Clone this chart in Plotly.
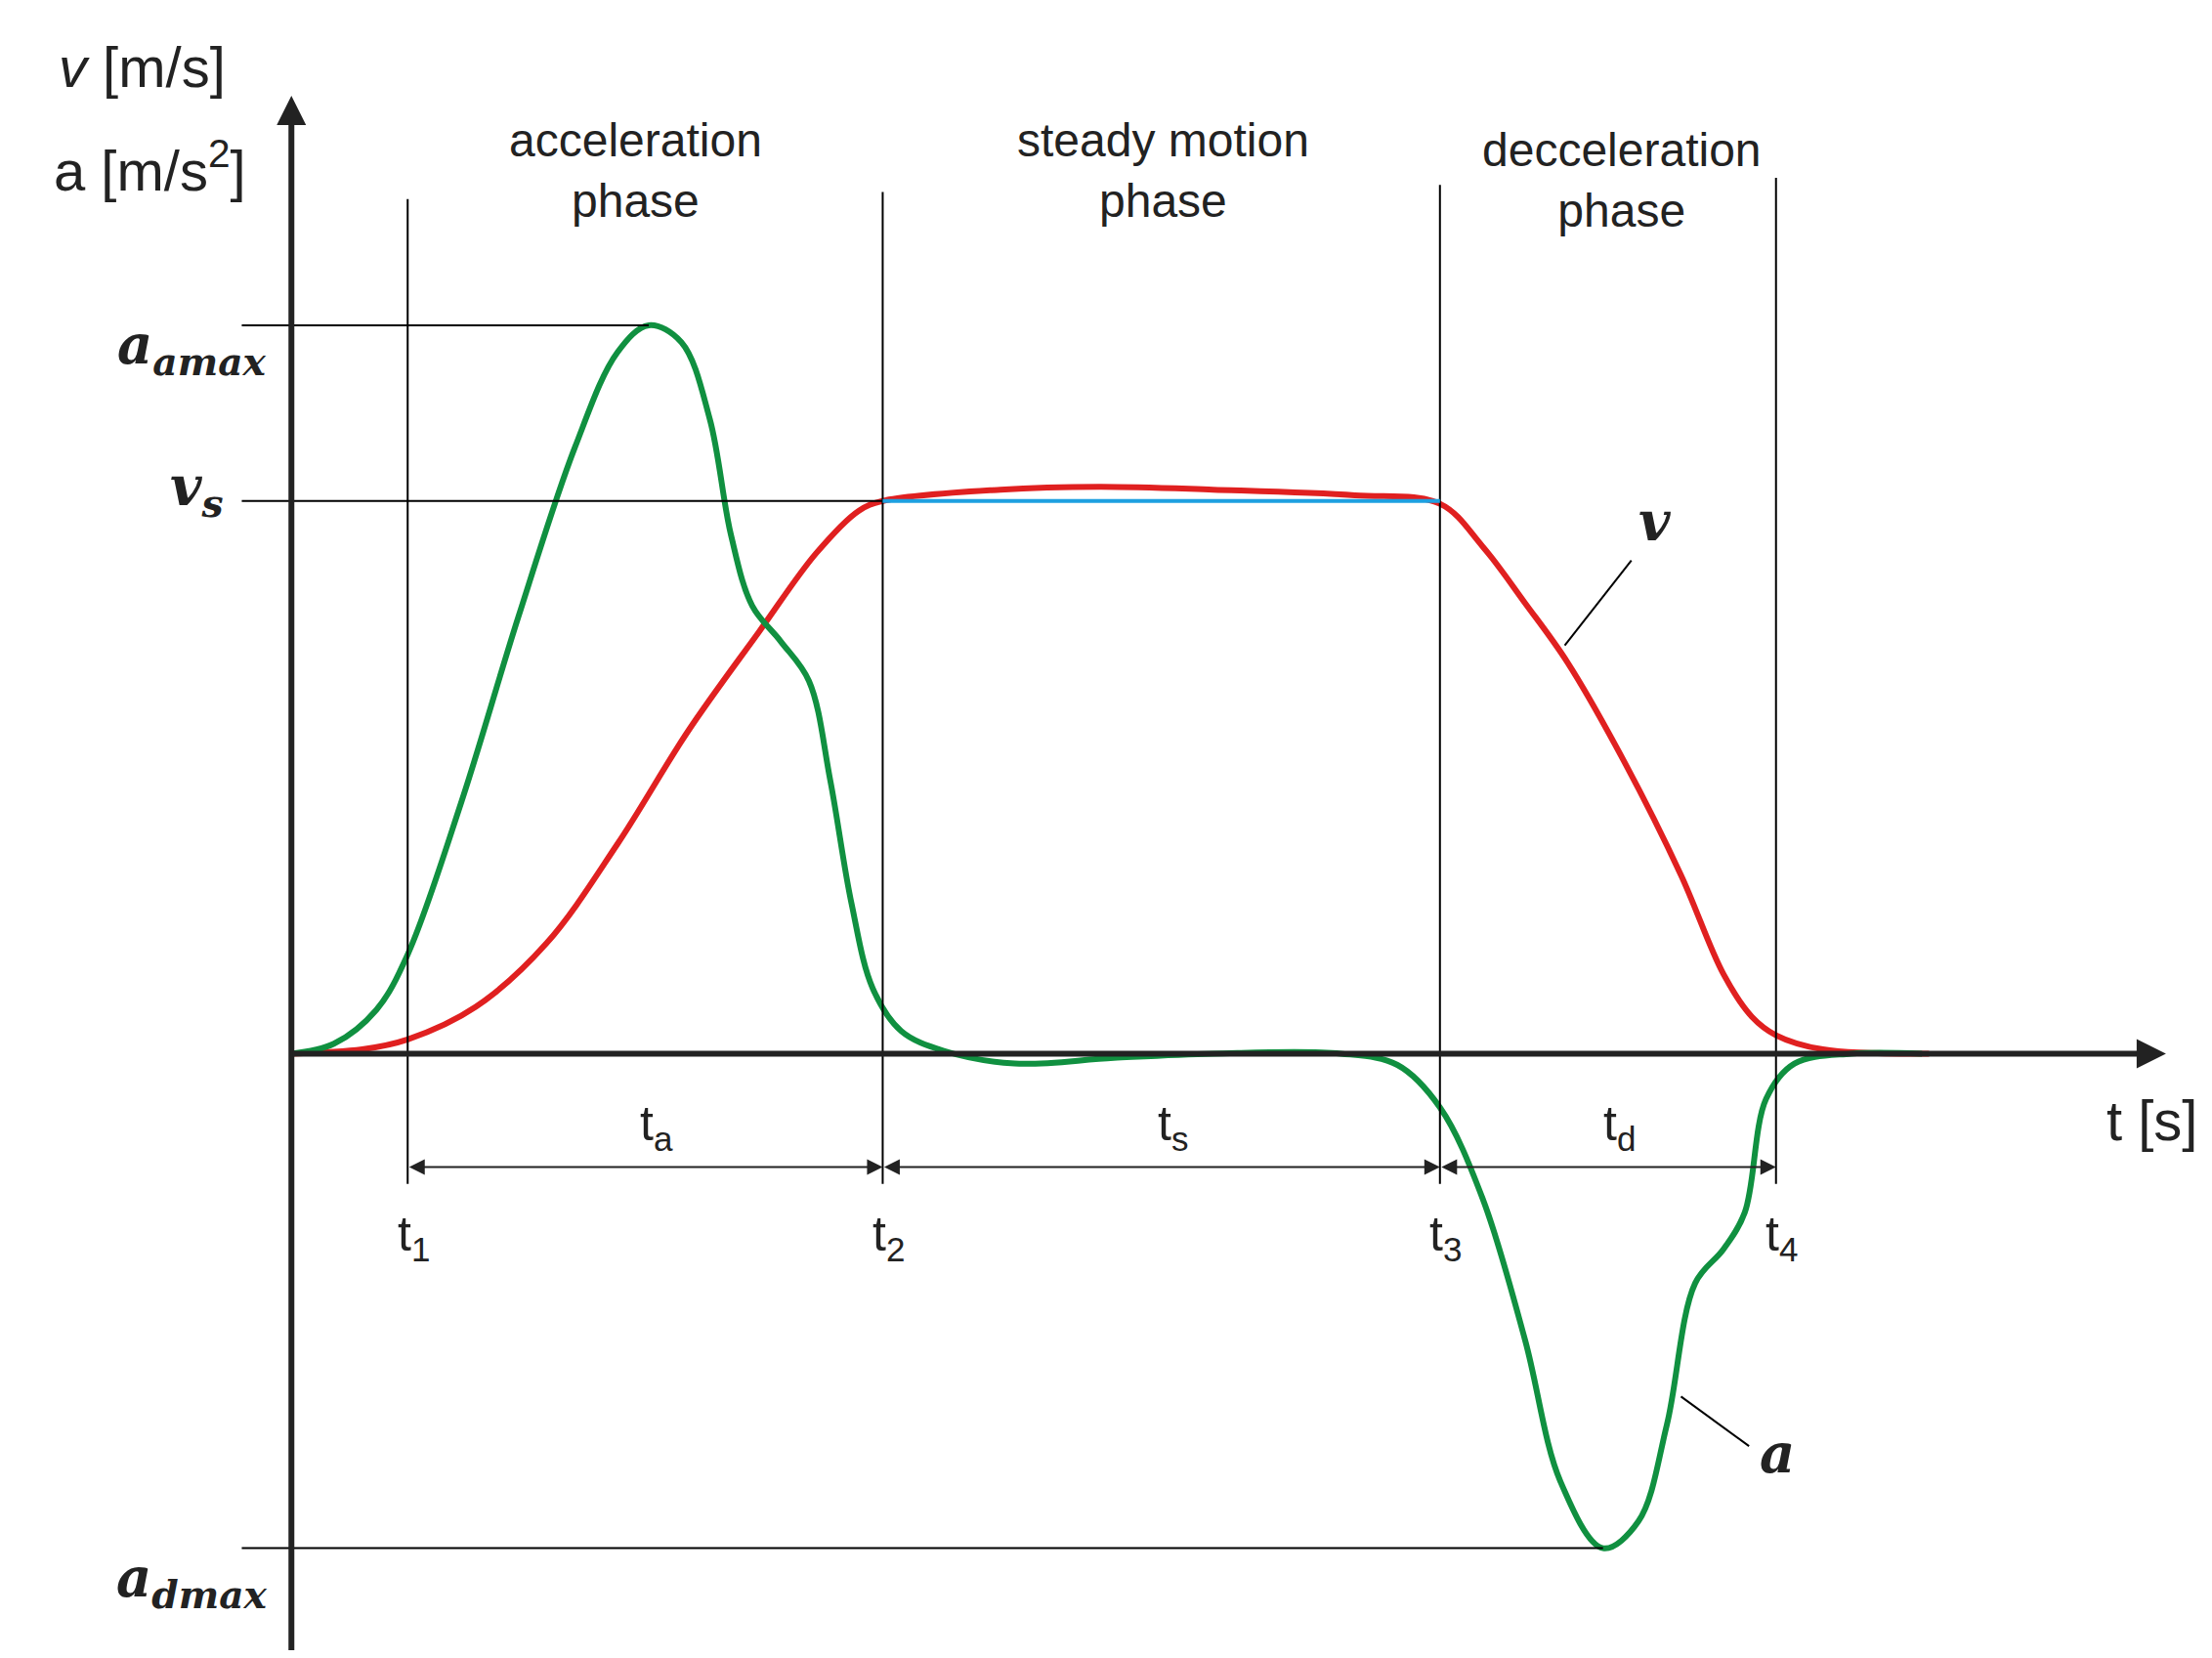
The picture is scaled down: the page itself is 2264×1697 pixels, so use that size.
import plotly.graph_objects as go

# coordinates are in picture units (x to the right, y downward), origin of the chart at (200, 738)
acc_x = [200, 230, 260, 282, 320, 360, 400, 430, 452, 475, 495, 510, 525, 545, 565, 580, 595, 610, 630, 660, 710, 780, 850, 940, 980, 1010, 1040, 1070, 1095, 1125, 1150, 1170, 1190, 1210, 1225, 1240, 1260, 1300, 1350]
acc_y = [738, 731, 707, 668, 560, 430, 310, 243, 224, 236, 290, 372, 422, 447, 475, 545, 632, 692, 722, 736, 745, 741, 738, 738, 746, 776, 840, 940, 1040, 1087, 1068, 1000, 900, 876, 850, 770, 745, 738, 738]
vel_x = [200, 250, 282, 330, 380, 430, 480, 530, 570, 600, 617, 700, 770, 850, 950, 1010, 1040, 1070, 1100, 1140, 1180, 1210, 1230, 1247, 1280, 1355]
vel_y = [738, 735, 728, 705, 660, 590, 510, 440, 385, 355, 348, 340, 338, 340, 344, 350, 380, 420, 462, 532, 612, 682, 712, 725, 735, 738]
t_marks = [282, 617, 1010, 1247]
t_tops = [135, 130, 125, 120]
t_labels = ["t<sub>1</sub>", "t<sub>2</sub>", "t<sub>3</sub>", "t<sub>4</sub>"]
span_labels = ["t<sub>a</sub>", "t<sub>s</sub>", "t<sub>d</sub>"]
phase_labels = ["acceleration<br>phase", "steady motion<br>phase", "decceleration<br>phase"]
phase_x = [443, 815, 1138]
phase_y = [115, 115, 122]
vs_y = 348
aamax_y = 224
admax_y = 1087

fig = go.Figure()
blk = dict(color="black", width=2)
for x, top in zip(t_marks, t_tops):
    fig.add_shape(type="line", x0=x, x1=x, y0=top, y1=830, line=blk)
fig.add_shape(type="line", x0=165, x1=452, y0=aamax_y, y1=aamax_y, line=blk)
fig.add_shape(type="line", x0=165, x1=617, y0=vs_y, y1=vs_y, line=blk)
fig.add_shape(type="line", x0=165, x1=1125, y0=admax_y, y1=admax_y, line=blk)
fig.add_shape(type="line", x0=617, x1=1010, y0=vs_y, y1=vs_y, line=dict(color="#1ea0e0", width=4))
fig.add_shape(type="line", x0=1098, x1=1145, y0=450, y1=390, line=blk)
fig.add_shape(type="line", x0=1180, x1=1228, y0=980, y1=1015, line=blk)

fig.add_trace(go.Scatter(x=vel_x, y=vel_y, mode="lines", line=dict(color="#e02020", width=6, shape="spline")))
fig.add_trace(go.Scatter(x=acc_x, y=acc_y, mode="lines", line=dict(color="#109040", width=6, shape="spline")))

def arrow(x0, y0, x1, y1, side="end", w=6):
    fig.add_annotation(x=x1, y=y1, ax=x0, ay=y0, xref="x", yref="y", axref="x", ayref="y",
                       text="", showarrow=True, arrowhead=2, arrowsize=1.0 if w > 2 else 1.6,
                       arrowwidth=w, arrowcolor="#222", arrowside=side, startarrowhead=2,
                       startarrowsize=1.6)

arrow(200, 1160, 200, 62)
arrow(200, 738, 1522, 738)
for a, b in zip(t_marks[:-1], t_marks[1:]):
    arrow(a, 818, b, 818, side="end+start", w=2)

txt = dict(family="Arial", size=50, color="#222")
for x, lab in zip(t_marks, t_labels):
    fig.add_annotation(x=x + 4, y=868, text=lab, showarrow=False, font=txt)
for a, b, lab in zip(t_marks[:-1], t_marks[1:], span_labels):
    fig.add_annotation(x=(a + b) / 2 + 8, y=790, text=lab, showarrow=False, font=txt)
for x, y, lab in zip(phase_x, phase_y, phase_labels):
    fig.add_annotation(x=x, y=y, text=lab, showarrow=False, font=dict(family="Arial", size=48, color="#222"))
fig.add_annotation(x=1512, y=785, text="t [s]", showarrow=False, font=dict(family="Arial", size=58, color="#222"))
fig.add_annotation(x=95, y=42, text="<i>v</i> [m/s]", showarrow=False, font=dict(family="Arial", size=58, color="#222"))
fig.add_annotation(x=100, y=112, text="a [m/s<sup>2</sup>]", showarrow=False, font=dict(family="Arial", size=58, color="#222"))
ser = dict(family="DejaVu Serif", size=56, color="#222")
fig.add_annotation(x=130, y=240, text="<b><i>a<sub>amax</sub></i></b>", showarrow=False, font=ser)
fig.add_annotation(x=133, y=340, text="<b><i>v<sub>s</sub></i></b>", showarrow=False, font=ser)
fig.add_annotation(x=130, y=1110, text="<b><i>a<sub>dmax</sub></i></b>", showarrow=False, font=ser)
fig.add_annotation(x=1162, y=362, text="<b><i>v</i></b>", showarrow=False, font=ser)
fig.add_annotation(x=1248, y=1020, text="<b><i>a</i></b>", showarrow=False, font=ser)

fig.update_layout(width=2264, height=1697, margin=dict(l=0, r=0, t=0, b=0),
                  paper_bgcolor="white", plot_bgcolor="white", showlegend=False)
fig.update_xaxes(range=[0, 1560], visible=False)
fig.update_yaxes(range=[1170, 0], visible=False)
fig.write_html("out.html")
